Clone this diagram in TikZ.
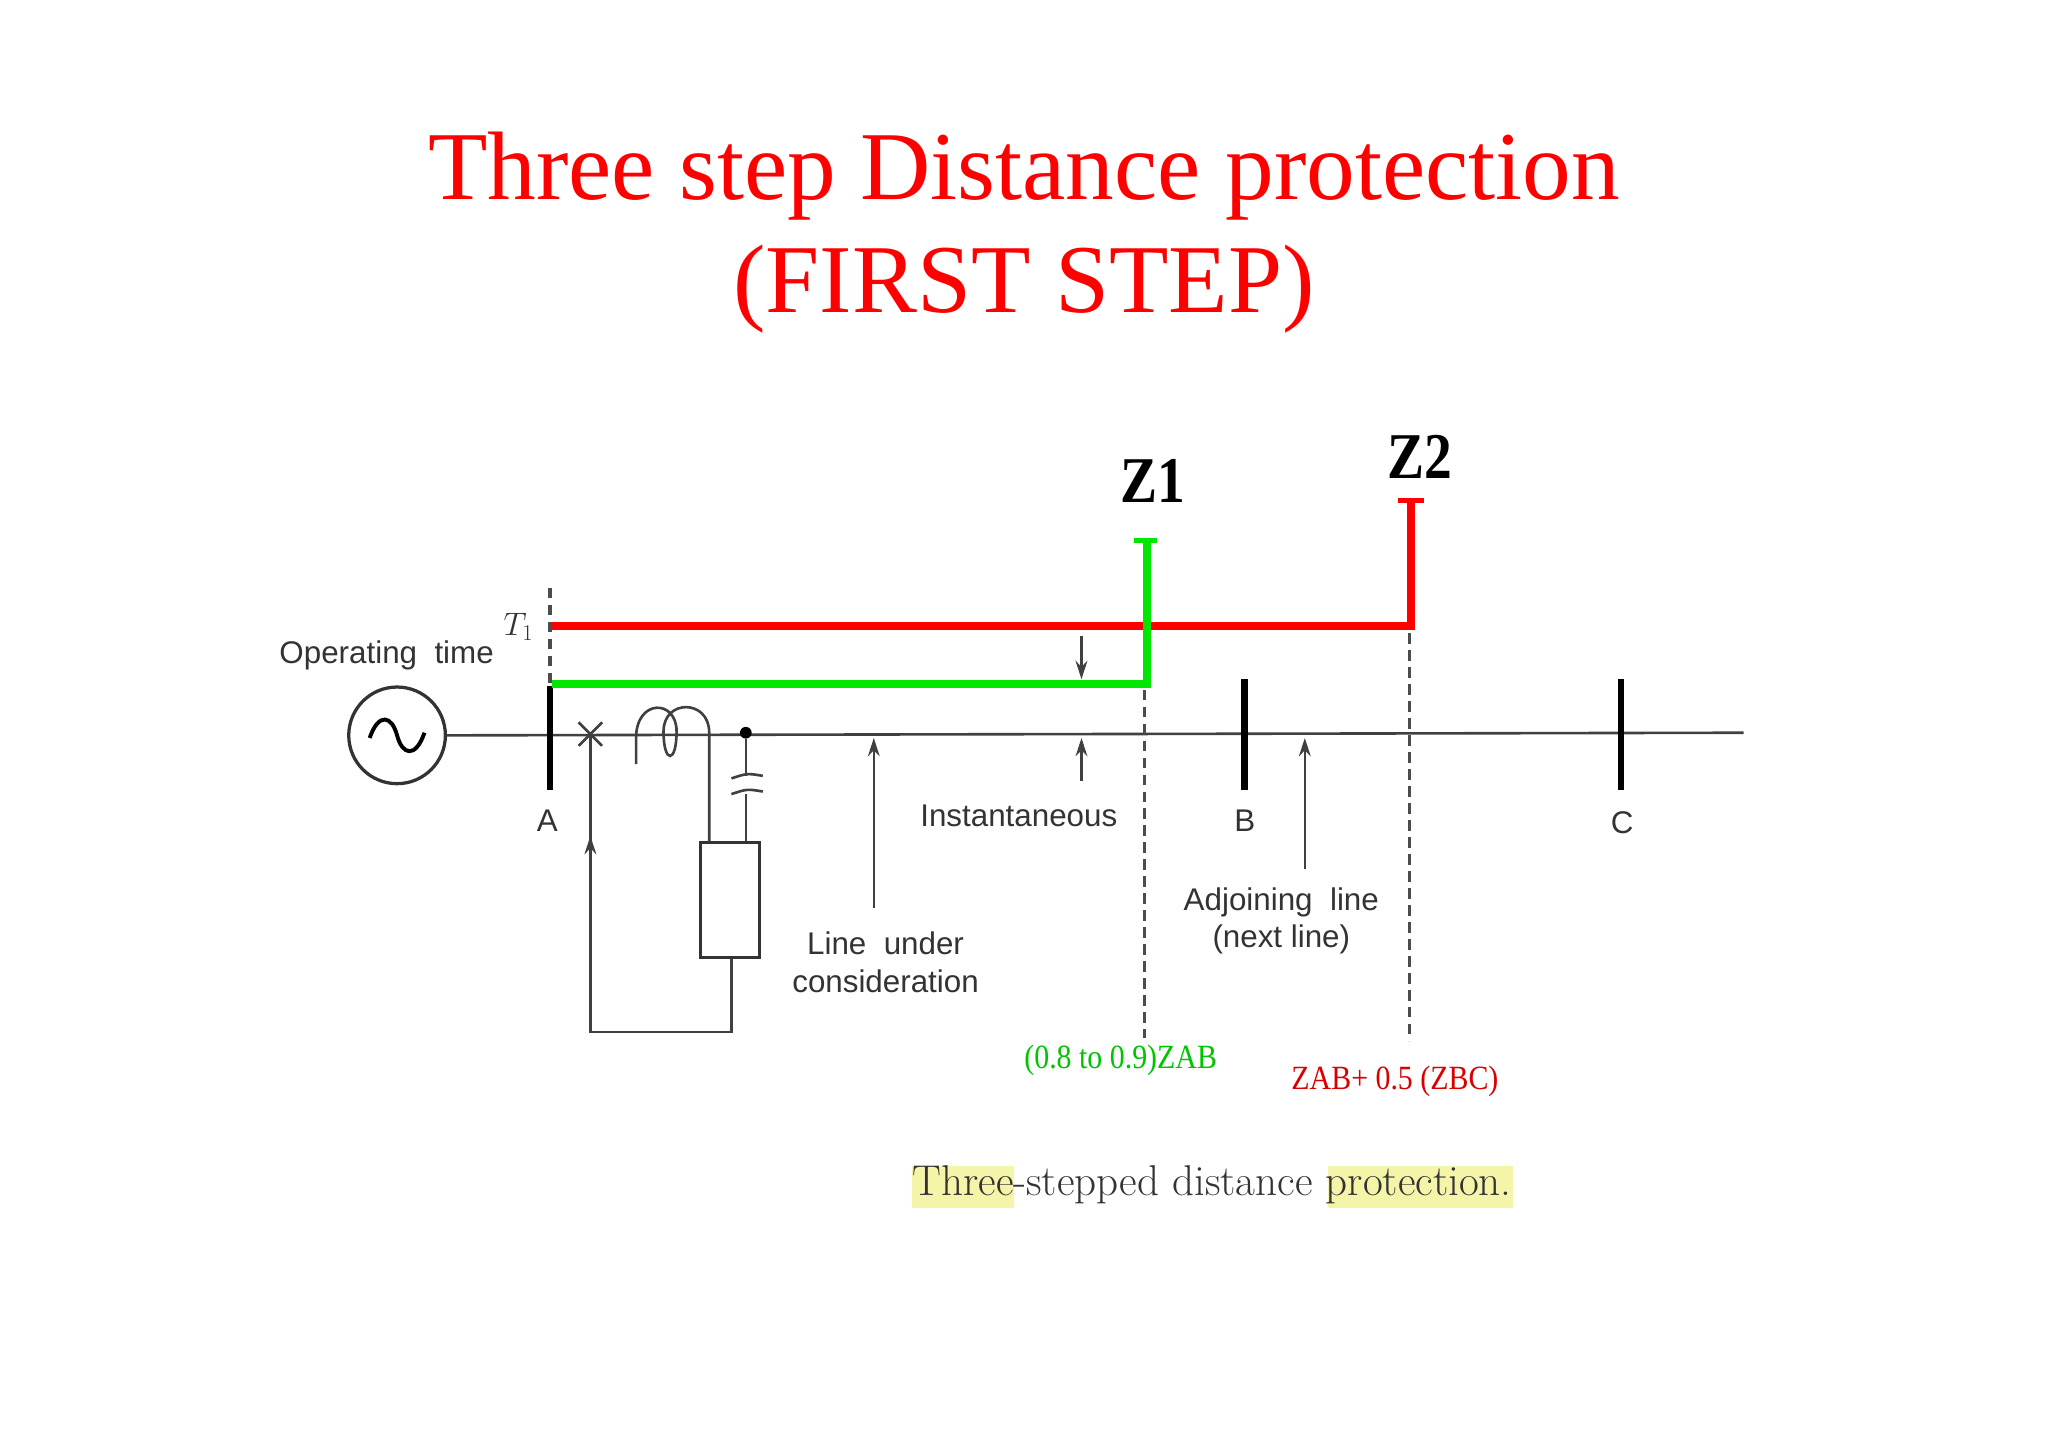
\documentclass[tikz,border=0pt]{standalone}
\usepackage{fontspec}
\setmainfont{Liberation Serif}
\setsansfont{Liberation Sans}
\newfontfamily\lmfont{Latin Modern Roman}
\usetikzlibrary{arrows.meta,calc}
\definecolor{zgreen}{RGB}{0,230,0}
\definecolor{zred}{RGB}{255,0,0}
\definecolor{hl}{RGB}{245,245,170}
\tikzset{
  thin line/.style={line width=2pt,draw=black!75},
  busbar/.style={line width=5pt,draw=black},
  zone/.style={line width=6pt},
  dashv/.style={line width=2.5pt,draw=black!70,dash pattern=on 8pt off 5pt},
  arr/.style={thin line,-{Stealth[length=14pt,width=9pt]}},
  lbl/.style={font=\sffamily\fontsize{24}{29}\selectfont,text=black!80,align=center,inner sep=0pt},
}
\begin{document}
\begin{tikzpicture}[x=1pt,y=-1pt]
\useasboundingbox (0,0) rectangle (1568,1108);
\fill[white] (0,0) rectangle (1568,1108);
% title
\node[text=zred,font=\fontsize{74.5}{86}\selectfont,align=center] (title) at (784,178) {Three step Distance protection\\(FIRST STEP)};
% generator
\node[draw=black!80,line width=2.5pt,circle,minimum size=74pt,inner sep=0pt] (gen) at (304,563) {};
\draw[line width=3pt] (283,565) .. controls (290,545) and (300,548) .. (304,563) .. controls (308,578) and (318,581) .. (325,561);
% main line
\coordinate (lineend) at (1335,561);
\draw[thin line] (gen.east) -- (lineend);
% buses
\coordinate (Atop) at (421,525); \coordinate (Abot) at (421,605);
\draw[busbar] (Atop) -- (Abot);
\node[lbl] (A) at (419,628) {A};
\coordinate (Btop) at (953,520); \coordinate (Bbot) at (953,605);
\draw[busbar] (Btop) -- (Bbot);
\node[lbl] (B) at (953,628) {B};
\coordinate (Ctop) at (1241,520); \coordinate (Cbot) at (1241,605);
\draw[busbar] (Ctop) -- (Cbot);
\node[lbl] (C) at (1242,630) {C};
\node[lbl] (optime) at (296,502) {Operating\ \ time};
\node[lbl,font=\sffamily\itshape\fontsize{24}{29}\selectfont] (T1) at (397,480) {$T_1$};
\coordinate (dashtop) at (421,450);
\draw[dashv] (dashtop) -- (Atop);
% breaker
\coordinate (brk) at (452,562);
\draw[thin line] ($(brk)+(-9,-9)$) -- ($(brk)+(9,9)$) ($(brk)+(-9,9)$) -- ($(brk)+(9,-9)$);
\coordinate (loopBL) at (452,790); \coordinate (loopBR) at (560,790);
\draw[thin line] (brk) -- (loopBL) -- (loopBR) -- (560,733);
\draw[arr] (452,700) -- (452,640);
% CT coil
\draw[thin line] (487,585) -- (487,565) .. controls (487,535) and (518,535) .. (518,560)
  .. controls (518,585) and (508,585) .. (508,560) .. controls (508,535) and (543,535) .. (543,561) -- (543,645);
% relay box
\node[draw=black!80,line width=2.5pt,minimum width=45pt,minimum height=88pt,inner sep=0pt] (relay) at (559,689) {};
% capacitor branch
\node[circle,fill=black,inner sep=0pt,minimum size=9pt] (dot) at (571,561) {};
\draw[thin line] (dot) -- (571,594) (571,608) -- (relay.north -| 571,0);
\draw[thin line] (560,596) .. controls (572,592) .. (584,594);
\draw[thin line] (560,608) .. controls (572,604) .. (584,606);
% arrows
\coordinate (luTail) at (669,695); \coordinate (luHead) at (669,565);
\draw[arr] (luTail) -- (luHead);
\node[lbl] (lu) at (678,737) {Line\ \ under\\consideration};
\draw[arr] (828,598) -- (828,565);
\node[lbl] (inst) at (780,625) {Instantaneous};
\draw[arr] (828,487) -- (828,520);
\draw[arr] (999,665) -- (999,565);
\node[lbl] (adj) at (981,705) {Adjoining\ \ line\\(next\ line)};
% dashed reach lines
\draw[dashv] (876,528) -- (876,795);
\draw[dashv] (1079,485) -- (1079,797);
% zones
\draw[zone,draw=zred] (423,479) -- (1080,479) -- (1080,384);
\draw[zone,draw=zred,line width=4pt] (1070,383) -- (1090,383);
\draw[zone,draw=zgreen] (423,524) -- (878,524) -- (878,414);
\draw[zone,draw=zgreen,line width=4pt] (868,414) -- (886,414);
\node[font=\bfseries\fontsize{50}{60}\selectfont,xscale=0.85] (Z1) at (883,368) {Z1};
\node[font=\bfseries\fontsize{50}{60}\selectfont,xscale=0.85] (Z2) at (1087,350) {Z2};
% reach labels
\node[text=zgreen!85!black,font=\fontsize{26}{30}\selectfont,xscale=0.88] (r1) at (858,812) {(0.8 to 0.9)ZAB};
\node[text=zred!85!black,font=\fontsize{26}{30}\selectfont,xscale=0.88] (r2) at (1068,828) {ZAB+ 0.5 (ZBC)};
% caption
\fill[hl] (698,893) rectangle (776,925);
\fill[hl] (1017,893) rectangle (1158,925);
\node[font=\lmfont\fontsize{33}{38}\selectfont,text=black!80] (cap) at (928,907) {Three-stepped distance protection.};
\end{tikzpicture}
\end{document}
